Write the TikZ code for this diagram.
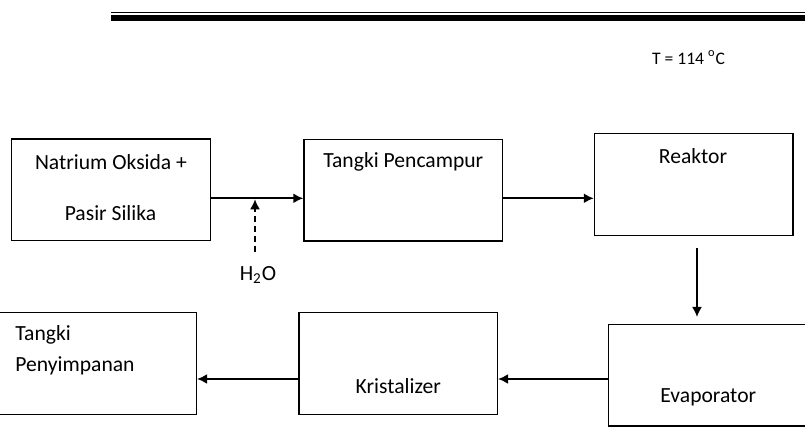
\documentclass[tikz,border=0pt]{standalone}
\usepackage{fontspec}
\setmainfont{Carlito}
\usetikzlibrary{arrows.meta}
\begin{document}
\begin{tikzpicture}[x=0.5pt,y=-0.5pt,
  box/.style={draw, line width=0.6pt, inner sep=0pt, minimum width=99.3pt, minimum height=50.9pt},
  lbl/.style={font=\fontsize{10.8pt}{13pt}\selectfont, inner sep=0pt},
  arr/.style={line width=0.9pt, -{Latex[length=5pt,width=5pt]}},
  darr/.style={line width=0.8pt, dash pattern=on 3pt off 2pt, -{Latex[length=5pt,width=5pt]}}]
\useasboundingbox (0,0) rectangle (805,432);
\clip (0,0) rectangle (805,432);
% header rule
\draw[line width=0.6pt] (111,12.9) -- (805,12.9);
\fill (111,14.7) rectangle (805,20.6);
% temperature
\node[anchor=west, inner sep=0pt, font=\fontsize{8.8pt}{10pt}\selectfont] (temp) at (651.7,57.3) {T = 114 \textsuperscript{o}C};
% boxes
\node[box] (b1) at (111,190) {};
\node[box] (b2) at (403.2,190.2) {};
\node[box, minimum height=51.2pt] (b3) at (693.7,184.5) {};
\node[box] (b4) at (97.2,363.5) {};
\node[box] (b5) at (398.2,363.7) {};
\node[box] (b6) at (707.7,375.2) {};
% texts
\node[lbl] (t1a) at (111,161.7) {Natrium Oksida +};
\node[lbl] (t1b) at (110.5,212.7) {Pasir Silika};
\node[lbl] (t2) at (403.3,161.7) {Tangki Pencampur};
\node[lbl] (t3) at (693,155.7) {Reaktor};
\node[lbl, anchor=west] (t4a) at (15,335) {Tangki};
\node[lbl, anchor=west] (t4b) at (15,366) {Penyimpanan};
\node[lbl] (t5) at (398.3,386) {Kristalizer};
\node[lbl] (t6) at (708.3,397.7) {Evaporator};
\node[lbl] (h2o) at (258,275) {H\textsubscript{2}O};
% connector coordinates
\coordinate (ytop) at (0,198.3);
\coordinate (ybot) at (0,379);
\coordinate (wstart) at (255,251.7);
\coordinate (wend) at (255,199.3);
\coordinate (rstart) at (697,248);
\coordinate (rend) at (697,317);
% connectors
\draw[arr] (b1.east |- ytop) -- (b2.west |- ytop);
\draw[arr] (b2.east |- ytop) -- (b3.west |- ytop);
\draw[darr] (wstart) -- (wend);
\draw[arr] (rstart) -- (rend);
\draw[arr] (b6.west |- ybot) -- (b5.east |- ybot);
\draw[arr] (b5.west |- ybot) -- (b4.east |- ybot);
\end{tikzpicture}
\end{document}
